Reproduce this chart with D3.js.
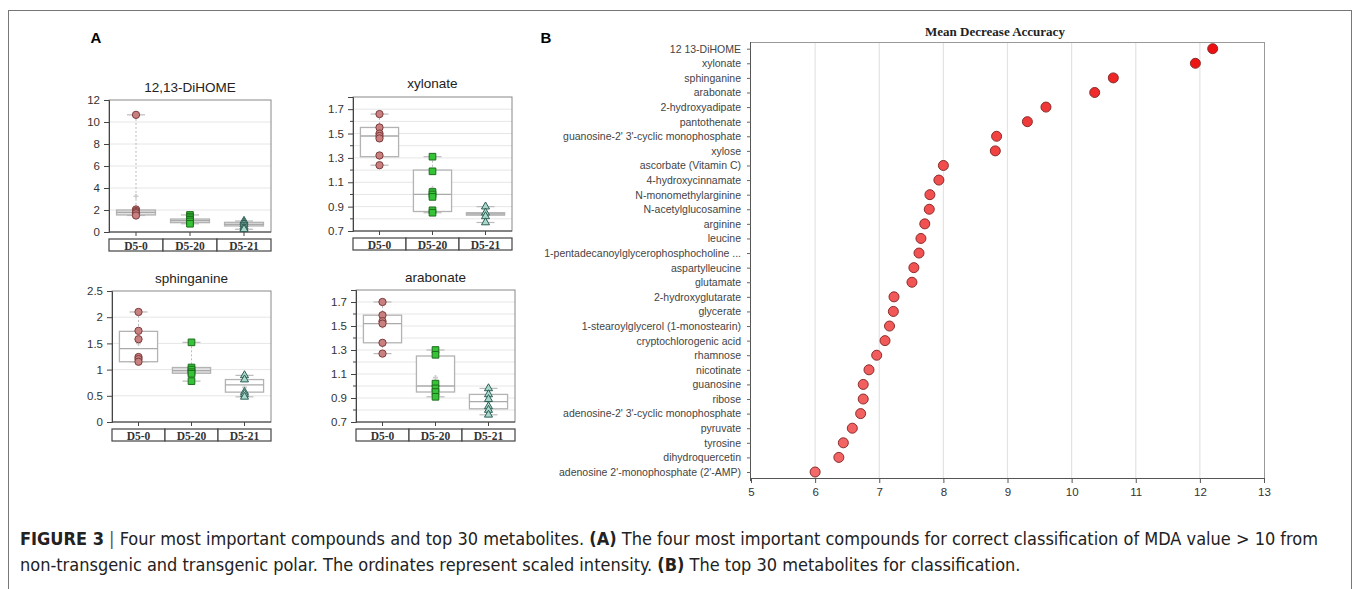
<html lang="en">
<head>
<title>Figure 3</title>
<script src="https://d3js.org/d3.v7.min.js"></script>
<style>
  body { margin: 0; background: white; }
</style>
</head>
<body>
<script>

// ---- panel B data (mean decrease accuracy) ----
var mdaNames = [
  "12 13-DiHOME", "xylonate", "sphinganine", "arabonate", "2-hydroxyadipate",
  "pantothenate", "guanosine-2' 3'-cyclic monophosphate", "xylose",
  "ascorbate (Vitamin C)", "4-hydroxycinnamate", "N-monomethylarginine",
  "N-acetylglucosamine", "arginine", "leucine",
  "1-pentadecanoylglycerophosphocholine ...", "aspartylleucine", "glutamate",
  "2-hydroxyglutarate", "glycerate", "1-stearoylglycerol (1-monostearin)",
  "cryptochlorogenic acid", "rhamnose", "nicotinate", "guanosine", "ribose",
  "adenosine-2' 3'-cyclic monophosphate", "pyruvate", "tyrosine",
  "dihydroquercetin", "adenosine 2'-monophosphate (2'-AMP)"
];
var mdaValues = [
  12.20, 11.93, 10.65, 10.36, 9.60, 9.31, 8.83, 8.81, 8.00, 7.93,
  7.79, 7.78, 7.71, 7.65, 7.62, 7.54, 7.51, 7.23, 7.22, 7.16,
  7.09, 6.96, 6.84, 6.75, 6.75, 6.71, 6.58, 6.44, 6.37, 6.00
];
var mdaTicks = [5, 6, 7, 8, 9, 10, 11, 12, 13];

// ---- panel A data (scaled intensity) ----
var groups = ["D5-0", "D5-20", "D5-21"];
var compounds = ["12,13-DiHOME", "xylonate", "sphinganine", "arabonate"];

// points per group, box as [q1, median, q3], mean per group
var dihomePts = [[10.65, 2.05, 1.9, 1.8, 1.7, 1.5], [1.55, 1.4, 1.25, 1.1, 0.95, 0.75], [1.0, 0.85, 0.7, 0.5, 0.35, 0.25]];
var dihomeBox = [[1.55, 1.78, 2.0], [0.85, 1.03, 1.18], [0.55, 0.7, 0.88]];
var dihomeMean = [3.25, 1.1, 0.6];
var dihomeTicks = [0, 2, 4, 6, 8, 10, 12];

var xylonatePts = [[1.66, 1.55, 1.50, 1.48, 1.46, 1.32, 1.24], [1.31, 1.19, 1.02, 1.0, 0.98, 0.87, 0.85], [0.9, 0.85, 0.82, 0.77]];
var xylonateBox = [[1.31, 1.48, 1.55], [0.86, 1.0, 1.2], [0.83, 0.84, 0.85]];
var xylonateMean = [1.46, 1.05, 0.84];
var xylonateTicks = [0.7, 0.9, 1.1, 1.3, 1.5, 1.7];

var sphinganinePts = [[2.10, 1.74, 1.58, 1.24, 1.20, 1.15], [1.52, 1.04, 1.0, 0.95, 0.92, 0.78], [0.89, 0.81, 0.57, 0.53, 0.48]];
var sphinganineBox = [[1.15, 1.40, 1.73], [0.93, 0.98, 1.04], [0.57, 0.71, 0.81]];
var sphinganineMean = [1.5, 1.03, 0.66];
var sphinganineTicks = [0, 0.5, 1, 1.5, 2, 2.5];

var arabonatePts = [[1.70, 1.59, 1.54, 1.52, 1.36, 1.27], [1.30, 1.26, 1.02, 0.98, 0.95, 0.91], [0.98, 0.93, 0.89, 0.83, 0.80, 0.76]];
var arabonateBox = [[1.36, 1.52, 1.59], [0.95, 1.0, 1.25], [0.81, 0.87, 0.93]];
var arabonateMean = [1.5, 1.07, 0.87];
var arabonateTicks = [0.7, 0.9, 1.1, 1.3, 1.5, 1.7];

var w = 1358, h = 589;
var sans = "Liberation Sans, Arial, sans-serif";
var serif = "Liberation Serif, Times New Roman, serif";

var svg = d3.select("body").append("svg")
  .attr("width", w)
  .attr("height", h)
  .attr("font-family", sans);

svg.append("rect").attr("width", w).attr("height", h).attr("fill", "white");

// outer figure frame
svg.append("rect")
  .attr("x", 8.5).attr("y", 10.5)
  .attr("width", 1343).attr("height", 620)
  .attr("fill", "none").attr("stroke", "#777");

svg.append("text").attr("x", 96).attr("y", 42.5)
  .attr("text-anchor", "middle").attr("font-size", 15).attr("font-weight", "bold")
  .text("A");
svg.append("text").attr("x", 546).attr("y", 42.5)
  .attr("text-anchor", "middle").attr("font-size", 15).attr("font-weight", "bold")
  .text("B");

// ---- panel A boxplots ----
var panels = [
  {title: compounds[0], pts: dihomePts, box: dihomeBox, mean: dihomeMean, ticks: dihomeTicks,
   domain: [0, 12], x0: 109, x1: 271, y0: 100, y1: 232, grid: 2, titleY: 92},
  {title: compounds[1], pts: xylonatePts, box: xylonateBox, mean: xylonateMean, ticks: xylonateTicks,
   domain: [0.7, 1.8], x0: 353, x1: 512, y0: 97, y1: 231, grid: 0.1, titleY: 88},
  {title: compounds[2], pts: sphinganinePts, box: sphinganineBox, mean: sphinganineMean, ticks: sphinganineTicks,
   domain: [0, 2.5], x0: 112, x1: 271, y0: 291, y1: 422, grid: 0.5, titleY: 283},
  {title: compounds[3], pts: arabonatePts, box: arabonateBox, mean: arabonateMean, ticks: arabonateTicks,
   domain: [0.7, 1.8], x0: 356, x1: 515, y0: 290, y1: 422, grid: 0.1, titleY: 282}
];

var markers = [
  {type: d3.symbolCircle, size: 42, fill: "#c98080", stroke: "#7d3b3b"},
  {type: d3.symbolSquare, size: 44, fill: "#35c435", stroke: "#1d6b1d"},
  {type: d3.symbolTriangle, size: 28, fill: "#a9d9cc", stroke: "#2f5e55"}
];

panels.forEach(function(p) {
  var x = d3.scaleBand().domain(groups).range([p.x0, p.x1]);
  var y = d3.scaleLinear().domain(p.domain).range([p.y1, p.y0]);
  var g = svg.append("g");

  // gridlines
  var gridVals = d3.range(Math.round(p.domain[0] / p.grid) + 1, Math.round(p.domain[1] / p.grid)).map(function(k) { return +(k * p.grid).toFixed(2); });
  g.selectAll("line.grid").data(gridVals).enter().append("line")
    .attr("x1", p.x0).attr("x2", p.x1)
    .attr("y1", d => y(d)).attr("y2", d => y(d))
    .attr("stroke", "#e6e6e6").attr("stroke-width", 1);

  // frame
  g.append("rect")
    .attr("x", p.x0).attr("y", p.y0)
    .attr("width", p.x1 - p.x0).attr("height", p.y1 - p.y0)
    .attr("fill", "none").attr("stroke", "#888");

  // y axis
  var yAxis = d3.axisLeft(y).tickValues(p.ticks).tickSize(5).tickPadding(4).tickFormat(d => d);
  var ya = g.append("g").attr("transform", `translate(${p.x0},0)`).call(yAxis);
  ya.select(".domain").attr("stroke", "#444");
  ya.selectAll(".tick line").attr("stroke", "#444");
  ya.attr("font-family", sans);
  ya.selectAll("text").attr("font-size", 11.5).attr("fill", "#333");
  if (p.grid < 0.2) {
    g.selectAll("line.minor").data(gridVals.filter(d => p.ticks.indexOf(d) < 0)).enter().append("line")
      .attr("x1", p.x0 - 3).attr("x2", p.x0)
      .attr("y1", d => y(d)).attr("y2", d => y(d))
      .attr("stroke", "#444");
  }

  // bottom axis line + ticks
  g.append("line").attr("x1", p.x0).attr("x2", p.x1).attr("y1", p.y1).attr("y2", p.y1)
    .attr("stroke", "#444");
  g.selectAll("line.xt").data(groups).enter().append("line")
    .attr("x1", d => x(d) + x.bandwidth() / 2).attr("x2", d => x(d) + x.bandwidth() / 2)
    .attr("y1", p.y1).attr("y2", p.y1 + 4)
    .attr("stroke", "#444");

  // title
  g.append("text").attr("x", (p.x0 + p.x1) / 2).attr("y", p.titleY)
    .attr("text-anchor", "middle").attr("font-size", 13.5).attr("fill", "#222")
    .text(p.title);

  // group strip
  var sy = p.y1 + 7;
  g.selectAll("rect.strip").data(groups).enter().append("rect")
    .attr("x", d => x(d)).attr("y", sy)
    .attr("width", x.bandwidth()).attr("height", 12)
    .attr("fill", "white").attr("stroke", "#444").attr("stroke-width", 1.2);
  g.selectAll("text.strip").data(groups).enter().append("text")
    .attr("x", d => x(d) + x.bandwidth() / 2).attr("y", sy + 10.5)
    .attr("text-anchor", "middle").attr("font-size", 11.5).attr("font-weight", "bold")
    .attr("font-family", serif).attr("fill", "#333")
    .text(d => d);

  groups.forEach(function(gr, i) {
    var cx = x(gr) + x.bandwidth() / 2;
    var bw = x.bandwidth() * 0.72;
    var vals = p.pts[i];
    var lo = d3.min(vals), hi = d3.max(vals);
    var b = p.box[i];

    // whiskers
    g.append("line").attr("x1", cx).attr("x2", cx).attr("y1", y(hi)).attr("y2", y(lo))
      .attr("stroke", "#bbb").attr("stroke-dasharray", "2,2");
    [lo, hi].forEach(function(v) {
      g.append("line").attr("x1", cx - 9).attr("x2", cx + 9).attr("y1", y(v)).attr("y2", y(v))
        .attr("stroke", "#bbb").attr("stroke-width", 1.2);
    });

    // box
    var thin = (y(b[0]) - y(b[2])) < 8;
    g.append("rect").attr("x", cx - bw / 2).attr("y", y(b[2]))
      .attr("width", bw).attr("height", Math.max(2, y(b[0]) - y(b[2])))
      .attr("fill", thin ? "#e2e2e2" : "white").attr("stroke", "#b3b3b3").attr("stroke-width", 1.3);
    g.append("line").attr("x1", cx - bw / 2).attr("x2", cx + bw / 2)
      .attr("y1", y(b[1])).attr("y2", y(b[1]))
      .attr("stroke", "#aaa").attr("stroke-width", 1.3);

    // mean marker
    g.append("path").attr("transform", `translate(${cx},${y(p.mean[i])})`)
      .attr("d", d3.symbol().type(d3.symbolCross).size(14)())
      .attr("fill", "#ccc");

    // points
    g.selectAll(null).data(vals).enter().append("path")
      .attr("transform", d => `translate(${cx},${y(d)})`)
      .attr("d", d3.symbol().type(markers[i].type).size(markers[i].size)())
      .attr("fill", markers[i].fill).attr("stroke", markers[i].stroke).attr("stroke-width", 1);
  });
});

// ---- panel B dot plot ----
var xB = d3.scaleLinear().domain([5, 13]).range([751, 1264]);
var yB = d3.scalePoint().domain(mdaNames).range([48.7, 472]);
var plotTop = 42, plotBottom = 478;
var color = d3.scaleLinear().domain([6, 12.2]).range(["#f36a6a", "#ee1010"]);

var gB = svg.append("g");

gB.selectAll("line.grid").data(mdaTicks.slice(1, -1)).enter().append("line")
  .attr("x1", d => xB(d)).attr("x2", d => xB(d))
  .attr("y1", plotTop).attr("y2", plotBottom)
  .attr("stroke", "#e3e3e3").attr("stroke-width", 1.2);

gB.append("line").attr("x1", xB(5)).attr("x2", xB(13)).attr("y1", plotTop + 0.5).attr("y2", plotTop + 0.5)
  .attr("stroke", "#999");
gB.append("line").attr("x1", xB(13) + 0.5).attr("x2", xB(13) + 0.5).attr("y1", plotTop).attr("y2", plotBottom)
  .attr("stroke", "#999");
gB.append("line").attr("x1", xB(5) - 0.5).attr("x2", xB(5) - 0.5).attr("y1", plotTop).attr("y2", plotBottom + 3)
  .attr("stroke", "#555");

var xAxisB = d3.axisBottom(xB).tickValues(mdaTicks).tickSize(5).tickPadding(5);
var xa = gB.append("g").attr("transform", `translate(0,${plotBottom})`).call(xAxisB);
xa.attr("font-family", sans);
xa.select(".domain").attr("stroke", "#555");
xa.selectAll(".tick line").attr("stroke", "#555");
xa.selectAll("text").attr("font-size", 11.5).attr("fill", "#333");

var yAxisB = d3.axisLeft(yB).tickSize(4).tickPadding(6);
var yaB = gB.append("g").attr("transform", `translate(${xB(5)},0)`).call(yAxisB);
yaB.attr("font-family", sans);
yaB.select(".domain").remove();
yaB.selectAll(".tick line").attr("stroke", "#666");
yaB.selectAll("text").attr("font-size", 10.5).attr("fill", "#444");

gB.selectAll("circle").data(mdaNames).enter().append("circle")
  .attr("cx", (d, i) => xB(mdaValues[i]))
  .attr("cy", d => yB(d))
  .attr("r", 5)
  .attr("fill", (d, i) => color(mdaValues[i]))
  .attr("stroke", "#8a2c2c").attr("stroke-width", 1);

gB.append("text").attr("x", 995).attr("y", 36)
  .attr("text-anchor", "middle").attr("font-size", 13).attr("font-weight", "bold")
  .attr("font-family", serif).attr("fill", "#222")
  .text("Mean Decrease Accuracy");

// ---- caption ----
var capFont = "Liberation Sans Narrow, DejaVu Sans Condensed, Arial Narrow, sans-serif";
var cap1 = svg.append("text").attr("x", 20).attr("y", 545)
  .attr("font-size", 15).attr("fill", "#222").attr("font-family", capFont);
cap1.append("tspan").attr("font-weight", "bold").text("FIGURE 3");
cap1.append("tspan").attr("fill", "#555").text(" | ");
cap1.append("tspan").text("Four most important compounds and top 30 metabolites. ");
cap1.append("tspan").attr("font-weight", "bold").text("(A)");
cap1.append("tspan").text(" The four most important compounds for correct classification of MDA value > 10 from");

var cap2 = svg.append("text").attr("x", 20).attr("y", 571)
  .attr("font-size", 15).attr("fill", "#222").attr("font-family", capFont);
cap2.append("tspan").text("non-transgenic and transgenic polar. The ordinates represent scaled intensity. ");
cap2.append("tspan").attr("font-weight", "bold").text("(B)");
cap2.append("tspan").text(" The top 30 metabolites for classification.");

// pick the caption size so line one spans the reference width
var natural = cap1.node().getComputedTextLength();
var capSize = Math.min(17, 15 * 1298 / natural);
cap1.attr("font-size", capSize);
cap2.attr("font-size", capSize);
var fitted = cap1.node().getComputedTextLength();
if (Math.abs(fitted - 1298) > 3) {
  var ratio = 1298 / fitted;
  cap1.attr("textLength", 1298).attr("lengthAdjust", "spacingAndGlyphs");
  cap2.attr("textLength", cap2.node().getComputedTextLength() * ratio).attr("lengthAdjust", "spacingAndGlyphs");
}

</script>
</body>
</html>
